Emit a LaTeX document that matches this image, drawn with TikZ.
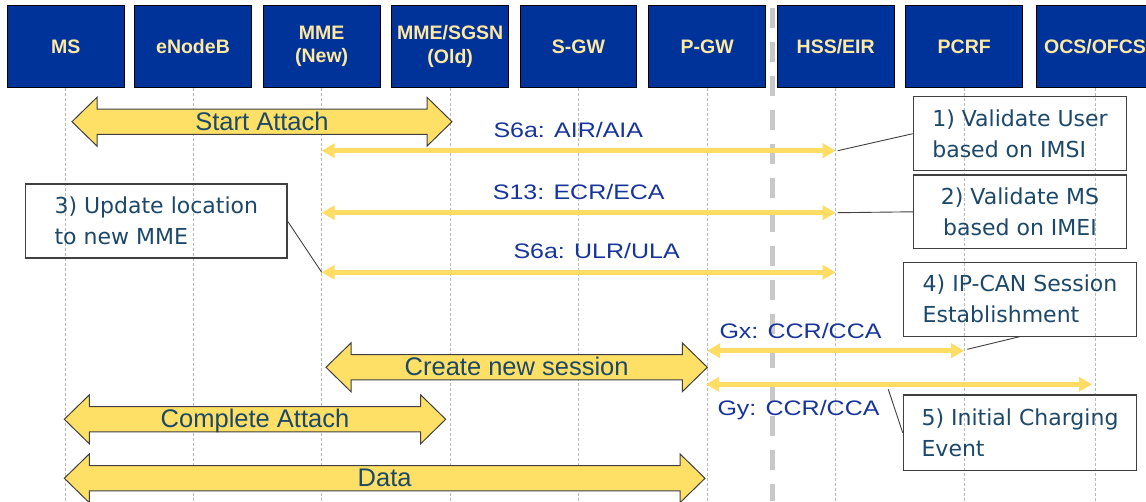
\documentclass[tikz,border=0pt]{standalone}
\usepackage{fontspec}
\setmainfont{Liberation Sans}
\newfontfamily\lblfont[FakeStretch=1.19]{Liberation Sans}
\newfontfamily\boxfont{DejaVu Sans}
\usetikzlibrary{arrows.meta}
\definecolor{hdrblue}{RGB}{0,51,153}
\definecolor{hdrtext}{RGB}{255,232,160}
\definecolor{blkfill}{RGB}{255,224,102}
\definecolor{blkline}{RGB}{64,64,64}
\definecolor{blktextc}{RGB}{28,72,105}
\definecolor{msgyellow}{RGB}{255,220,100}
\definecolor{lblblue}{RGB}{22,52,155}
\definecolor{sepgray}{RGB}{200,200,200}
\definecolor{lifegray}{RGB}{185,185,185}
\tikzset{
 hdr/.style={draw=black, line width=0.8pt, fill=hdrblue, text=hdrtext, minimum width=116.7pt, minimum height=82pt, inner sep=0pt, align=center, font=\bfseries\fontsize{19.5}{23.5}\selectfont},
 lifeline/.style={draw=lifegray, line width=0.8pt, dash pattern=on 3pt off 2pt},
 sepline/.style={draw=sepgray, line width=4.5pt, dash pattern=on 20pt off 14pt},
 msg/.style={draw=msgyellow, line width=5pt, {Triangle[length=13pt,width=14pt]}-{Triangle[length=13pt,width=14pt]}},
 lbl/.style={text=lblblue, inner sep=0pt, anchor=base west, font=\lblfont\fontsize{21}{25}\selectfont},
 blk/.style={draw=blkline, fill=blkfill, line width=1pt, line join=miter},
 blktext/.style={text=blktextc, inner sep=0pt, anchor=base, font=\fontsize{25.5}{30}\selectfont},
 note/.style={draw=blkline, line width=1.1pt, text=blktextc, inner sep=0pt, font=\boxfont\fontsize{22}{31}\selectfont},
 callout/.style={draw=black!75, line width=0.9pt},
}
\newcommand\blockarr[5]{%
 \draw[blk] (#2,#4) -- (#2+25,#4-24.4) -- (#2+25,#4-12.6) -- (#3-25,#4-12.6) -- (#3-25,#4-24.4) -- (#3,#4) -- (#3-25,#4+24.4) -- (#3-25,#4+12.6) -- (#2+25,#4+12.6) -- (#2+25,#4+24.4) -- cycle;
 \node[blktext] (#1) at ({(#2+#3)/2},{#4+8.3}) {#5};}
\begin{document}
\begin{tikzpicture}[x=1pt,y=-1pt]
\useasboundingbox (0,0) rectangle (1146,501);
\clip (0,0) rectangle (1146,501);
\fill[white] (0,0) rectangle (1146,501);
% header boxes
\node[hdr] (ms) at (65.7,46.3) {MS};
\node[hdr] (enb) at (193,46.3) {eNodeB};
\node[hdr] (mmen) at (321.7,46.3) {MME\\(New)};
\node[hdr] (mmeo) at (450.2,46.3) {MME/SGSN\\(Old)};
\node[hdr] (sgw) at (578.5,46.3) {S-GW};
\node[hdr] (pgw) at (707.2,46.3) {P-GW};
\node[hdr] (hss) at (835.7,46.3) {HSS/EIR};
\node[hdr] (pcrf) at (964.2,46.3) {PCRF};
\node[hdr] (ocs) at (1095,46.3) {OCS/OFCS};
% lifelines
\coordinate (bottom) at (0,501);
\foreach \n in {ms,enb,mmen,mmeo,sgw,pgw,hss,pcrf,ocs}
  \draw[lifeline] (\n.south) -- (\n.south |- bottom);
% separator
\coordinate (septop) at (772.3,8.3);
\coordinate (sepbot) at (772.3,501);
\draw[sepline] (septop) -- (sepbot);
% message end points
\coordinate (airL) at (321.7,150.7);
\coordinate (airR) at (835.7,150.7);
\coordinate (ecrL) at (321.7,212.7);
\coordinate (ecrR) at (835.7,212.7);
\coordinate (ulrL) at (321.7,272.3);
\coordinate (ulrR) at (835.7,272.3);
\coordinate (gxL) at (707.2,350.7);
\coordinate (gxR) at (964.2,350.7);
\coordinate (gyL) at (706,384.3);
\coordinate (gyR) at (1092,384.3);
\draw[msg] (airL) -- (airR);
\draw[msg] (ecrL) -- (ecrR);
\draw[msg] (ulrL) -- (ulrR);
\draw[msg] (gxL) -- (gxR);
\draw[msg] (gyL) -- (gyR);
% labels
\node[lbl] (lair) at (493.3,137.7) {S6a: AIR/AIA};
\node[lbl] (lecr) at (492.7,199.3) {S13: ECR/ECA};
\node[lbl] (lulr) at (513.3,258.3) {S6a: ULR/ULA};
\node[lbl] (lgx) at (719.3,338.3) {Gx: CCR/CCA};
\node[lbl] (lgy) at (717.3,415) {Gy: CCR/CCA};
% block arrows
\blockarr{sa}{72}{452}{121.7}{Start Attach}
\blockarr{cns}{326}{707.3}{367.3}{Create new session}
\blockarr{ca}{64.3}{445.7}{419.3}{Complete Attach}
\blockarr{data}{64.3}{705}{478.3}{Data}
% notes
\node[note, minimum width=213.4pt, minimum height=74pt, align=left] (n1) at (1020,133.7) {1) Validate User\\based on IMSI};
\node[note, minimum width=213.4pt, minimum height=73.7pt, align=center] (n2) at (1020,211.8) {2) Validate MS\\based on IMEI};
\node[note, minimum width=261.3pt, minimum height=74pt, align=left] (n3) at (156.3,221) {3) Update location\\to new MME};
\node[note, minimum width=233.4pt, minimum height=73.7pt, align=left] (n4) at (1020,299.2) {4) IP-CAN Session\\Establishment};
\node[note, minimum width=233.4pt, minimum height=75.7pt, align=left] (n5) at (1020,432.8) {5) Initial Charging\\Event};
% callouts
\coordinate (c4) at (967.3,349.3);
\coordinate (c5) at (888.3,389.3);
\draw[callout] (n1.west) -- ([xshift=2pt]airR);
\draw[callout] (n2.west) -- ([xshift=2pt]ecrR);
\draw[callout] (n3.east) -- (ulrL);
\draw[callout] (n4.south) -- (c4);
\draw[callout] (n5.west) -- (c5);
\end{tikzpicture}
\end{document}
